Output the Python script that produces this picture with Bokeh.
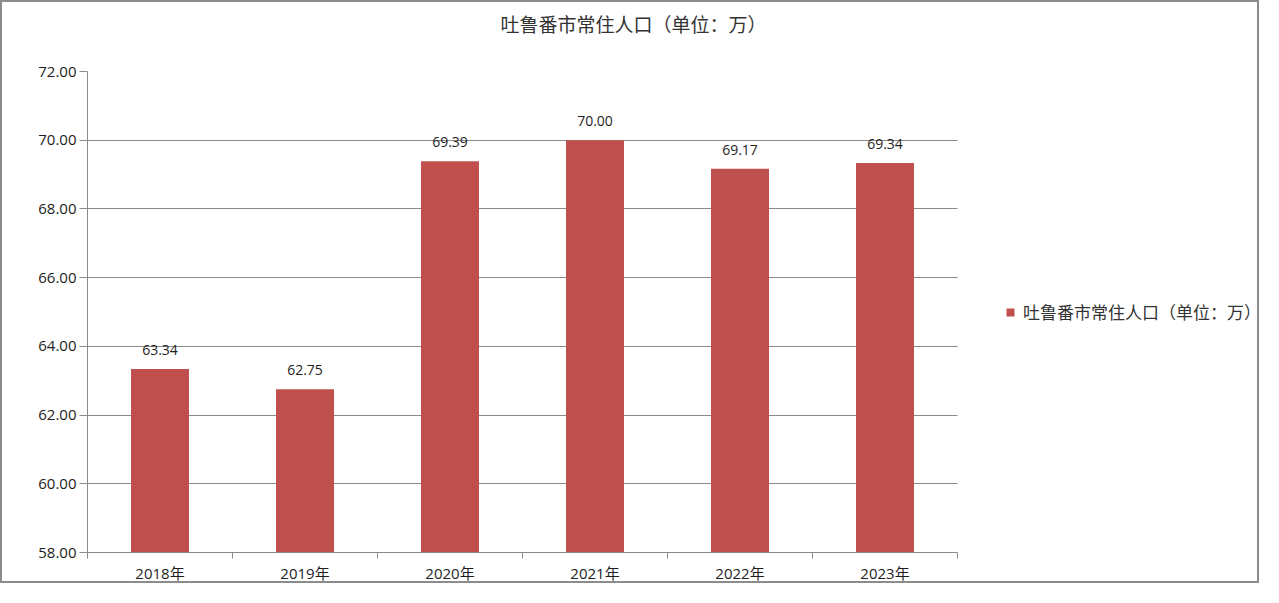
from bokeh.plotting import figure
from bokeh.models import (ColumnDataSource, Range1d, FixedTicker, NumeralTickFormatter,
                          Legend, LegendItem, Title)
from bokeh.core.properties import value
from bokeh.embed import file_html
from bokeh.resources import INLINE

# ---- data ----
title_text = "吐鲁番市常住人口（单位：万）"
series_name = "吐鲁番市常住人口（单位：万）"
categories = ["2018年", "2019年", "2020年", "2021年", "2022年", "2023年"]
values = [63.34, 62.75, 69.39, 70.00, 69.17, 69.34]
y_ticks = [58, 60, 62, 64, 66, 68, 70, 72]

BAR_COLOR = "#C0504D"
GRID = "#8a8a8a"
TEXT = "#1e1e1e"
NUM_FONT = "Open Sans, Noto Sans CJK SC"
CJK_FONT = "Noto Sans CJK SC"

# layout (pixels)
W, H = 1259, 583
LEFT, TOP, BOTTOM = 85, 69, 32
PLOT_W = 870                      # width of the category area
FRAME_W = W - LEFT                # frame runs to the right edge; legend lives inside it

n = len(categories)
xs = [i + 0.5 for i in range(n)]
labels = [f"{v:.2f}" for v in values]
src = ColumnDataSource(dict(x=xs, top=values, label=labels, cat=categories))

x_end = n * FRAME_W / PLOT_W
p = figure(width=W, height=H, output_backend="svg", toolbar_location=None,
           x_range=Range1d(0, x_end), y_range=Range1d(y_ticks[0], y_ticks[-1]),
           min_border_left=LEFT, min_border_right=0, min_border_top=TOP,
           min_border_bottom=BOTTOM)
p.styles = {"border": "2px solid #8c8c8c"}
p.outline_line_color = None
p.background_fill_color = "white"
p.border_fill_color = "white"

# horizontal grid lines limited to the category area
p.xgrid.grid_line_color = None
p.ygrid.ticker = FixedTicker(ticks=y_ticks)
p.ygrid.grid_line_color = GRID
p.ygrid.grid_line_width = 1
try:
    p.ygrid.cross_bounds = (0, n)
except Exception:
    p.ygrid.grid_line_color = None
    p.segment(x0=[0] * len(y_ticks), x1=[n] * len(y_ticks), y0=y_ticks, y1=y_ticks,
              line_color=GRID, line_width=1)

r = p.vbar(x="x", top="top", bottom=y_ticks[0], width=0.4, source=src,
           fill_color=BAR_COLOR, line_color=None)

p.text(x="x", y="top", text="label", source=src, text_align="center",
       text_baseline="middle", y_offset=-19, text_font=value(NUM_FONT),
       text_font_size="14px", text_color=TEXT)

# y axis
p.yaxis.ticker = FixedTicker(ticks=y_ticks)
p.yaxis.formatter = NumeralTickFormatter(format="0.00")
p.yaxis.axis_line_color = GRID
p.yaxis.major_tick_line_color = GRID
p.yaxis.major_tick_in = 0
p.yaxis.major_tick_out = 8
p.yaxis.minor_tick_line_color = None
p.yaxis.major_label_standoff = 3
p.yaxis.major_label_text_font = NUM_FONT
p.yaxis.major_label_text_font_size = "15px"
p.yaxis.major_label_text_color = TEXT

# x axis: labels at category centres, ticks between categories
p.xaxis.bounds = (0, n)
p.xaxis.ticker = FixedTicker(ticks=xs, minor_ticks=list(range(n + 1)))
p.xaxis.major_label_overrides = {x: c for x, c in zip(xs, categories)}
p.xaxis.axis_line_color = GRID
p.xaxis.major_tick_line_color = None
p.xaxis.minor_tick_line_color = GRID
p.xaxis.minor_tick_in = 0
p.xaxis.minor_tick_out = 6
p.xaxis.major_tick_in = 0
p.xaxis.major_tick_out = 6
p.xaxis.major_label_standoff = 4
p.xaxis.major_label_text_font = NUM_FONT
p.xaxis.major_label_text_font_size = "15px"
p.xaxis.major_label_text_color = TEXT

# title (a blank spacer title sits between the frame and the real title)
p.add_layout(Title(text=" ", text_font_size="10px", standoff=17), "above")
p.add_layout(Title(text=title_text, align="left", offset=413, standoff=10,
                   vertical_align="bottom",
                   text_font=CJK_FONT, text_font_size="19px", text_font_style="normal",
                   text_color="#333333"), "above")

# legend, placed right of the category area
legend = Legend(items=[LegendItem(label=series_name, renderers=[r])],
                location=(918, 228), padding=0, margin=0, spacing=0,
                glyph_width=10, glyph_height=10, label_standoff=8,
                border_line_color=None, background_fill_alpha=0,
                label_text_font=CJK_FONT, label_text_font_size="17px",
                label_text_color="#333333")
p.add_layout(legend, "center")

open("out.html", "w").write(file_html(p, INLINE))
